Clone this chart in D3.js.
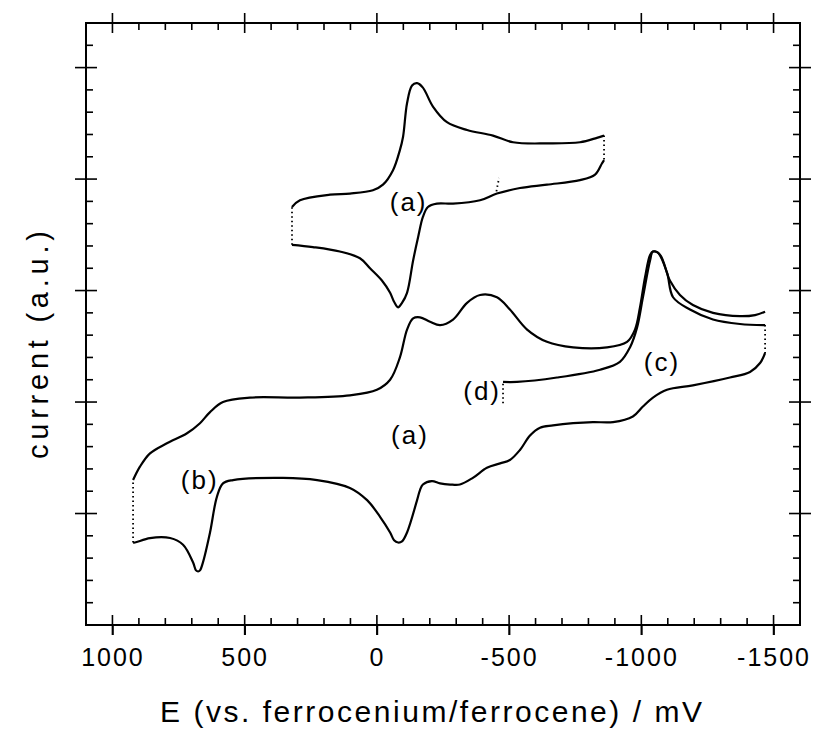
<!DOCTYPE html>
<html>
<head>
<meta charset="utf-8">
<script src="https://cdn.jsdelivr.net/npm/d3@7"></script>
<style>
  body { margin: 0; background: #fff; }
  svg { display: block; }
  text { font-family: "Liberation Sans", Arial, Helvetica, sans-serif; fill: #000; }
</style>
</head>
<body>
<div class="root"></div>
<script>
// potential E in mV (vs. Fc+/Fc), current in arbitrary units

// small CV (a), upper trace: left -> right
var topUpperE = [321, 291, 177, 102, 15, -23, -61, -87, -99, -114, -133, -152, -174, -212, -265, -341, -439, -515, -643, -768, -832, -859];
var topUpperI = [3.75, 3.81, 3.86, 3.87, 3.90, 3.95, 4.08, 4.26, 4.38, 4.68, 4.84, 4.86, 4.82, 4.65, 4.51, 4.44, 4.39, 4.33, 4.32, 4.33, 4.37, 4.39];
// small CV (a), lower trace: right -> left
var topLowerE = [-859, -851, -825, -768, -643, -541, -454, -390, -288, -227, -193, -174, -156, -137, -114, -95, -80, -65, -50, -19, 26, 64, 140, 242, 321];
var topLowerI = [4.17, 4.14, 4.04, 3.99, 3.95, 3.92, 3.87, 3.81, 3.78, 3.78, 3.75, 3.66, 3.48, 3.27, 2.98, 2.89, 2.85, 2.90, 2.98, 3.09, 3.20, 3.29, 3.35, 3.39, 3.41];
// second, shorter scan that turned at about -460 mV
var topTurnE = [-452, -462];
var topTurnI = [3.89, 4.01];

// wide CV (a)+(b), upper trace: left -> right
var bigUpperE = [922, 896, 858, 794, 718, 669, 631, 582, 480, 291, 102, 0, -50, -87, -114, -137, -163, -201, -239, -288, -341, -390, -454, -503, -568, -643, -742, -870, -946, -976, -995, -1014, -1033, -1044, -1063, -1097, -1120, -1184, -1271, -1373, -1468];
var bigUpperI = [1.30, 1.42, 1.54, 1.63, 1.72, 1.81, 1.91, 2.00, 2.04, 2.04, 2.06, 2.11, 2.20, 2.40, 2.65, 2.75, 2.76, 2.72, 2.69, 2.74, 2.89, 2.96, 2.94, 2.83, 2.65, 2.54, 2.49, 2.49, 2.54, 2.65, 2.85, 3.12, 3.32, 3.35, 3.34, 3.16, 2.94, 2.83, 2.74, 2.70, 2.69];
// wide CV, lower trace: right -> left
var bigLowerE = [-1468, -1449, -1411, -1335, -1195, -1097, -1044, -1006, -968, -893, -817, -742, -666, -617, -579, -541, -503, -466, -416, -363, -314, -277, -239, -208, -174, -163, -152, -114, -95, -80, -65, -50, -12, 37, 102, 226, 355, 544, 582, 605, 631, 658, 669, 676, 684, 695, 733, 782, 858, 915, 922];
var bigLowerI = [2.44, 2.35, 2.27, 2.22, 2.15, 2.11, 2.04, 1.96, 1.87, 1.82, 1.82, 1.81, 1.79, 1.77, 1.70, 1.57, 1.48, 1.45, 1.41, 1.32, 1.26, 1.26, 1.27, 1.29, 1.26, 1.21, 1.12, 0.83, 0.75, 0.74, 0.76, 0.83, 0.97, 1.12, 1.23, 1.30, 1.32, 1.30, 1.27, 1.15, 0.83, 0.56, 0.49, 0.48, 0.49, 0.56, 0.72, 0.78, 0.78, 0.74, 0.74];

// scan (d) -> (c), started at -477 mV
var cdStartI = 1.99;
var cdE = [-477, -530, -681, -844, -919, -957, -984, -1006, -1033, -1044, -1071, -1108, -1146, -1195, -1271, -1373, -1430, -1468];
var cdI = [2.18, 2.18, 2.22, 2.29, 2.36, 2.49, 2.67, 2.94, 3.27, 3.35, 3.32, 3.09, 2.96, 2.87, 2.80, 2.77, 2.78, 2.81];

// axes
var majorE = [1000, 500, 0, -500, -1000, -1500];
var majorLabels = ['1000', '500', '0', '-500', '-1000', '-1500'];
var minorE = [1100, 900, 800, 700, 600, 400, 300, 200, 100, -100, -200, -300, -400, -600, -700, -800, -900, -1100, -1200, -1300, -1400, -1600];
var majorI = [1, 2, 3, 4, 5];
var minorI = [0.2, 0.4, 0.6, 0.8, 1.2, 1.4, 1.6, 1.8, 2.2, 2.4, 2.6, 2.8, 3.2, 3.4, 3.6, 3.8, 4.2, 4.4, 4.6, 4.8, 5.2];

// curve labels
var labelText = ['(a)', '(a)', '(b)', '(c)', '(d)'];
var labelE = [-120, -125, 670, -1078, -398];
var labelI = [3.80, 1.71, 1.30, 2.36, 2.10];

function zip(es, is) {
  return es.map(function(e, k) { return [e, is[k]]; });
}

function runChart() {
  var w = 821, h = 731;
  var left = 86, right = 800, top = 23, bottom = 625;

  var svg = d3.select('.root').append('svg')
    .attr('width', w)
    .attr('height', h);

  var x = d3.scaleLinear().domain([1100, -1600]).range([left, right]);
  var y = d3.scaleLinear().domain([0, 5.4]).range([bottom, top]);

  // bottom axis with the labels
  var bx = svg.append('g')
    .attr('transform', 'translate(0,' + bottom + ')')
    .call(d3.axisBottom(x)
      .tickValues(majorE)
      .tickSize(10)
      .tickSizeOuter(0)
      .tickPadding(13)
      .tickFormat(function(d, k) { return majorLabels[k]; }));
  bx.select('.domain').remove();
  bx.selectAll('line').attr('stroke', '#000').attr('stroke-width', 1.6);
  bx.selectAll('text')
    .style('font-size', '25px')
    .style('letter-spacing', '2px');

  // frame
  svg.append('rect')
    .attr('x', left)
    .attr('y', top)
    .attr('width', right - left)
    .attr('height', bottom - top)
    .attr('fill', 'none')
    .attr('stroke', '#000')
    .attr('stroke-width', 2);

  var ticks = svg.append('g')
    .attr('stroke', '#000')
    .attr('stroke-width', 1.6);

  // x ticks on bottom and top edges: majors cross, minors inside
  [bottom, top].forEach(function(edge) {
    var dir = edge === bottom ? -1 : 1;
    ticks.append('g').selectAll('line')
      .data(majorE)
      .enter().append('line')
        .attr('x1', function(d) { return x(d); })
        .attr('x2', function(d) { return x(d); })
        .attr('y1', edge - 10)
        .attr('y2', edge + 10);
    ticks.append('g').selectAll('line')
      .data(minorE)
      .enter().append('line')
        .attr('x1', function(d) { return x(d); })
        .attr('x2', function(d) { return x(d); })
        .attr('y1', edge)
        .attr('y2', edge + dir * 7);
  });

  // y ticks on left and right edges
  [left, right].forEach(function(edge) {
    var dir = edge === left ? 1 : -1;
    ticks.append('g').selectAll('line')
      .data(majorI)
      .enter().append('line')
        .attr('y1', function(d) { return y(d); })
        .attr('y2', function(d) { return y(d); })
        .attr('x1', edge - 11)
        .attr('x2', edge + 11);
    ticks.append('g').selectAll('line')
      .data(minorI)
      .enter().append('line')
        .attr('y1', function(d) { return y(d); })
        .attr('y2', function(d) { return y(d); })
        .attr('x1', edge)
        .attr('x2', edge + dir * 7);
  });

  // traces
  var line = d3.line()
    .x(function(d) { return x(d[0]); })
    .y(function(d) { return y(d[1]); })
    .curve(d3.curveCatmullRom.alpha(0.5));

  var solid = [
    zip(topUpperE, topUpperI),
    zip(topLowerE, topLowerI),
    zip(bigUpperE, bigUpperI),
    zip(bigLowerE, bigLowerI),
    zip(cdE, cdI)
  ];

  svg.append('g')
    .selectAll('path')
    .data(solid)
    .enter().append('path')
      .attr('d', line)
      .attr('fill', 'none')
      .attr('stroke', '#000')
      .attr('stroke-width', 2.2)
      .attr('stroke-linejoin', 'round');

  // switching points are drawn as sparse dots
  var dotted = [
    [[topUpperE[0], topLowerI[topLowerI.length - 1]], [topUpperE[0], topUpperI[0]]],
    [[topUpperE[topUpperE.length - 1], topUpperI[topUpperI.length - 1]], [topLowerE[0], topLowerI[0]]],
    zip(topTurnE, topTurnI),
    [[bigUpperE[0], bigLowerI[bigLowerI.length - 1]], [bigUpperE[0], bigUpperI[0]]],
    [[bigUpperE[bigUpperE.length - 1], bigUpperI[bigUpperI.length - 1]], [bigLowerE[0], bigLowerI[0]]],
    [[cdE[0], cdStartI], [cdE[0], cdI[0]]]
  ];

  svg.append('g')
    .selectAll('path')
    .data(dotted)
    .enter().append('path')
      .attr('d', d3.line().x(function(d) { return x(d[0]); }).y(function(d) { return y(d[1]); }))
      .attr('fill', 'none')
      .attr('stroke', '#000')
      .attr('stroke-width', 1.8)
      .attr('stroke-dasharray', '1.5,3');

  svg.append('g')
    .selectAll('text')
    .data(labelText)
    .enter().append('text')
      .attr('x', function(d, k) { return x(labelE[k]); })
      .attr('y', function(d, k) { return y(labelI[k]); })
      .attr('dy', '0.36em')
      .attr('text-anchor', 'middle')
      .style('font-size', '26px')
      .style('letter-spacing', '2px')
      .text(function(d) { return d; });

  // axis titles
  svg.append('text')
    .attr('x', 431)
    .attr('y', 722)
    .attr('text-anchor', 'middle')
    .attr('textLength', 542)
    .attr('lengthAdjust', 'spacing')
    .style('font-size', '30px')
    .text('E (vs. ferrocenium/ferrocene) / mV');

  svg.append('text')
    .attr('transform', 'translate(48,345) rotate(-90)')
    .attr('text-anchor', 'middle')
    .attr('textLength', 228)
    .attr('lengthAdjust', 'spacing')
    .style('font-size', '29px')
    .text('current (a.u.)');
}

window.onload = function() {
  runChart();
};
</script>
</body>
</html>
